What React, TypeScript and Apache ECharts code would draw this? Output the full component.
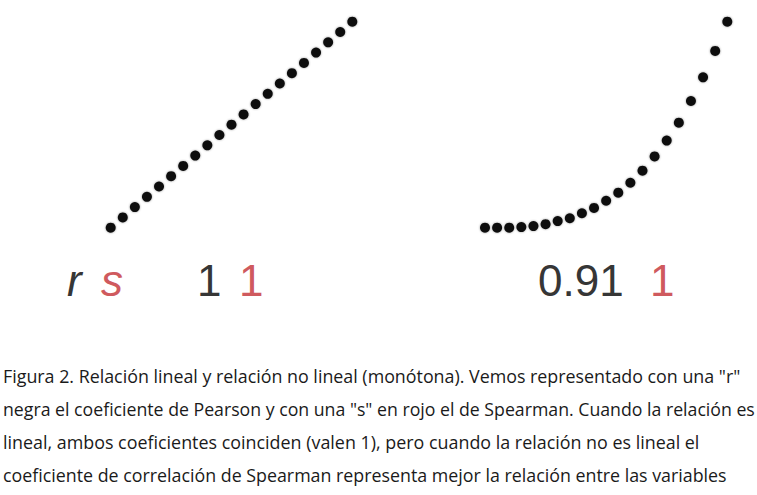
import React, { useEffect, useRef } from "react";
import * as echarts from "echarts";

// ---- data ----
const xIndex = [0, 1, 2, 3, 4, 5, 6, 7, 8, 9, 10, 11, 12, 13, 14, 15, 16, 17, 18, 19, 20];
const linearY = [0, 5, 10, 15, 20, 25, 30, 35, 40, 45, 50, 55, 60, 65, 70, 75, 80, 85, 90, 95, 100];
const curveY = [0, 0, 0, 0.3, 0.8, 1.7, 3.2, 4.6, 7.0, 9.6, 13.1, 17.0, 21.8, 27.7, 34.6, 42.3, 51.0, 61.5, 73.0, 85.8, 100];

const leftLabels = ["r", "s", "1", "1"];
const rightLabels = ["0.91", "1"];

const captionLines = [
  'Figura 2. Relación lineal y relación no lineal (monótona). Vemos representado con una "r"',
  'negra el coeficiente de Pearson y con una "s" en rojo el de Spearman. Cuando la relación es',
  "lineal, ambos coeficientes coinciden (valen 1), pero cuando la relación no es lineal el",
  "coeficiente de correlación de Spearman representa mejor la relación entre las variables",
];

const GRAY = "#363636";
const RED = "#cf5a5e";
const DOT = "#0d0d0d";

export default function App() {
  const ref = useRef<HTMLDivElement>(null);

  useEffect(() => {
    if (!ref.current) return;
    const chart = echarts.init(ref.current, undefined, { renderer: "svg" });

    const capFont = 18;
    const capFamily = "Open Sans";
    const canvas = document.createElement("canvas");
    const ctx = canvas.getContext("2d");
    if (ctx) ctx.font = `${capFont}px "${capFamily}"`;
    const capTargets = [738, 752, 697, 724];
    const capBaselines = [383, 416, 449, 482];

    const captionGraphics = captionLines.map((line, i) => {
      const w = ctx ? ctx.measureText(line).width : capTargets[i];
      return {
        type: "text",
        x: 3,
        y: capBaselines[i] - 0.39 * capFont,
        scaleX: capTargets[i] / w,
        style: {
          text: line,
          fontFamily: capFamily,
          fontSize: capFont,
          fill: "#1a1a1a",
          align: "left",
          verticalAlign: "middle",
        },
      };
    });

    const bigFont = 44;
    const bigY = 296 - 0.3465 * bigFont;
    const leftX = [67, 101, 197, 239];
    const leftColors = [GRAY, RED, GRAY, RED];
    const leftItalic = [true, true, false, false];
    const rightX = [538, 650];
    const rightColors = [GRAY, RED];

    const labelGraphics = [
      ...leftLabels.map((t, i) => ({
        type: "text",
        x: leftX[i],
        y: bigY,
        style: {
          text: t,
          fontFamily: "Liberation Sans",
          fontSize: bigFont,
          fontStyle: leftItalic[i] ? "italic" : "normal",
          fill: leftColors[i],
          align: "left",
          verticalAlign: "middle",
        },
      })),
      ...rightLabels.map((t, i) => ({
        type: "text",
        x: rightX[i],
        y: bigY,
        style: {
          text: t,
          fontFamily: "Liberation Sans",
          fontSize: bigFont,
          fill: rightColors[i],
          align: "left",
          verticalAlign: "middle",
        },
      })),
    ];

    const hiddenAxis = (gridIndex: number) => ({
      type: "value",
      gridIndex,
      show: false,
      min: 0,
      max: 0,
    });

    const dotStyle = { color: DOT, opacity: 1, shadowBlur: 2, shadowColor: "rgba(0,0,0,0.4)" };

    chart.setOption({
      animation: false,
      backgroundColor: "#ffffff",
      grid: [
        { left: 110.7, top: 21.7, width: 241.6, height: 206 },
        { left: 485, top: 21.7, width: 242.3, height: 206 },
      ],
      xAxis: [
        { ...hiddenAxis(0), max: 20 },
        { ...hiddenAxis(1), max: 20 },
      ],
      yAxis: [
        { ...hiddenAxis(0), max: 100 },
        { ...hiddenAxis(1), max: 100 },
      ],
      series: [
        {
          type: "scatter",
          xAxisIndex: 0,
          yAxisIndex: 0,
          data: xIndex.map((x, i) => [x, linearY[i]]),
          symbolSize: 10,
          itemStyle: dotStyle,
          silent: true,
        },
        {
          type: "scatter",
          xAxisIndex: 1,
          yAxisIndex: 1,
          data: xIndex.map((x, i) => [x, curveY[i]]),
          symbolSize: 10,
          itemStyle: dotStyle,
          silent: true,
        },
      ],
      graphic: [...labelGraphics, ...captionGraphics],
    });

    return () => chart.dispose();
  }, []);

  return <div ref={ref} style={{ width: 757, height: 495, position: "absolute", left: 0, top: 0 }} />;
}
